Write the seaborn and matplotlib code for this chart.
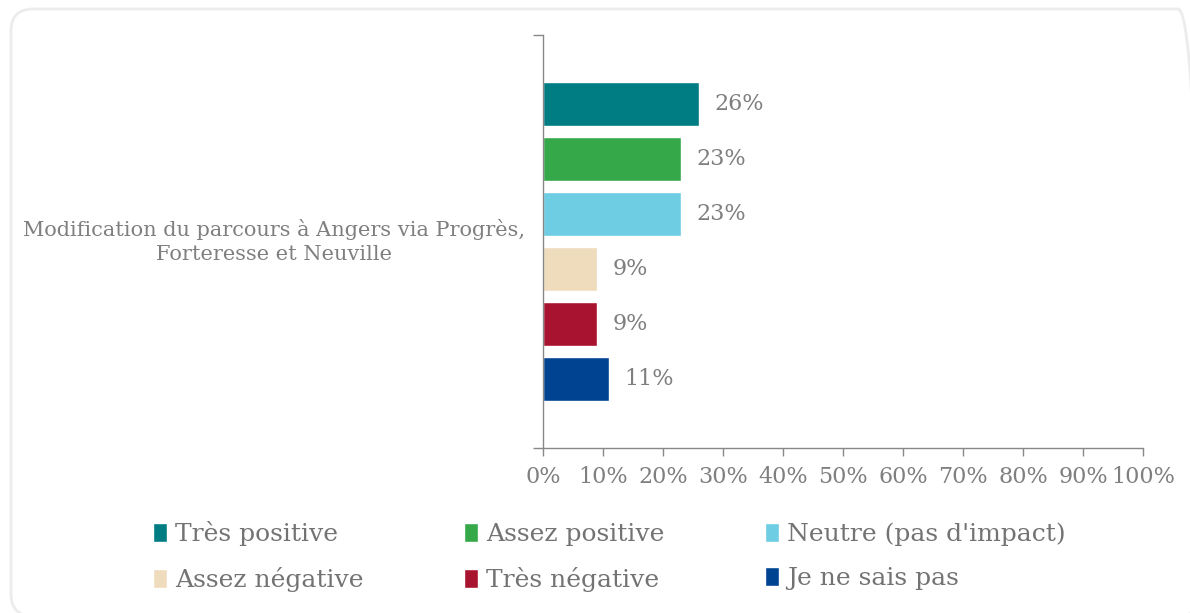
import numpy as np
import pandas as pd
import matplotlib
matplotlib.use('Agg')
import matplotlib.pyplot as plt
from matplotlib.patches import FancyBboxPatch
from matplotlib.ticker import PercentFormatter
import seaborn as sns

sns.set_style("white")
plt.rcParams['font.family'] = ['DejaVu Serif']

# data
category = "Modification du parcours à Angers via Progrès,\nForteresse et Neuville"
responses = ['Très positive', 'Assez positive', "Neutre (pas d'impact)",
             'Assez négative', 'Très négative', 'Je ne sais pas']
values = [26, 23, 23, 9, 9, 11]
colors = ['#007c83', '#35a84a', '#6ecde3', '#eedcbc', '#a8142f', '#004391']

df = pd.DataFrame({'cat': [category] * len(responses),
                   'reponse': responses,
                   'pct': values})

grey = '#7f7f7f'

fig = plt.figure(figsize=(11.9, 6.13), dpi=100)
ax = fig.add_axes([543 / 1190, 1 - 448 / 613, 600 / 1190, 413 / 613])

sns.barplot(data=df, y='cat', x='pct', hue='reponse', hue_order=responses,
            palette=colors, orient='h', errorbar=None, gap=0.2,
            saturation=1, ax=ax, legend=True)

for cont in ax.containers:
    ax.bar_label(cont, fmt='%d%%', padding=11, fontsize=16, color=grey)

# axes styling
ax.set_xlim(0, 100)
ax.set_ylim(0.5, -0.5)
ax.set_xticks(np.arange(0, 101, 10))
ax.xaxis.set_major_formatter(PercentFormatter(decimals=0))
ax.tick_params(axis='x', colors='#888888', labelcolor=grey, labelsize=16,
               length=6, width=1, direction='out', bottom=True, pad=7)
ax.set_yticks([])
ax.set_yticks([-0.5, 0.5], minor=True)
ax.tick_params(axis='y', which='minor', colors='#888888', length=7, width=1,
               left=True, direction='out')
ax.set_xlabel('')
ax.set_ylabel('')
for s in ['top', 'right']:
    ax.spines[s].set_visible(False)
for s in ['left', 'bottom']:
    ax.spines[s].set_color('#888888')
    ax.spines[s].set_linewidth(1)

# category label
ax.text(-0.448, 0.5, category, transform=ax.transAxes, ha='center',
        va='center', fontsize=15, color=grey, linespacing=1.4)

# legend row-wise
handles, labels = ax.get_legend_handles_labels()
order = [0, 3, 1, 4, 2, 5]
ax.legend([handles[i] for i in order], [labels[i] for i in order],
          ncol=3, loc='upper left', bbox_to_anchor=(153 / 1190, 1 - 521 / 613),
          bbox_transform=fig.transFigure, frameon=False, fontsize=18,
          labelcolor='#737373', handlelength=0.55, handleheight=0.8,
          handletextpad=0.35, columnspacing=4.0, labelspacing=0.85,
          borderpad=0, borderaxespad=0)

# rounded frame around the chart
frame = FancyBboxPatch((11, -3), 1189, 607,
                       boxstyle='round,pad=0,rounding_size=22',
                       transform=None, facecolor='none',
                       edgecolor='#ececec', linewidth=2, zorder=-1)
fig.patches.append(frame)

fig.savefig('out.png', dpi=100, facecolor='white')
